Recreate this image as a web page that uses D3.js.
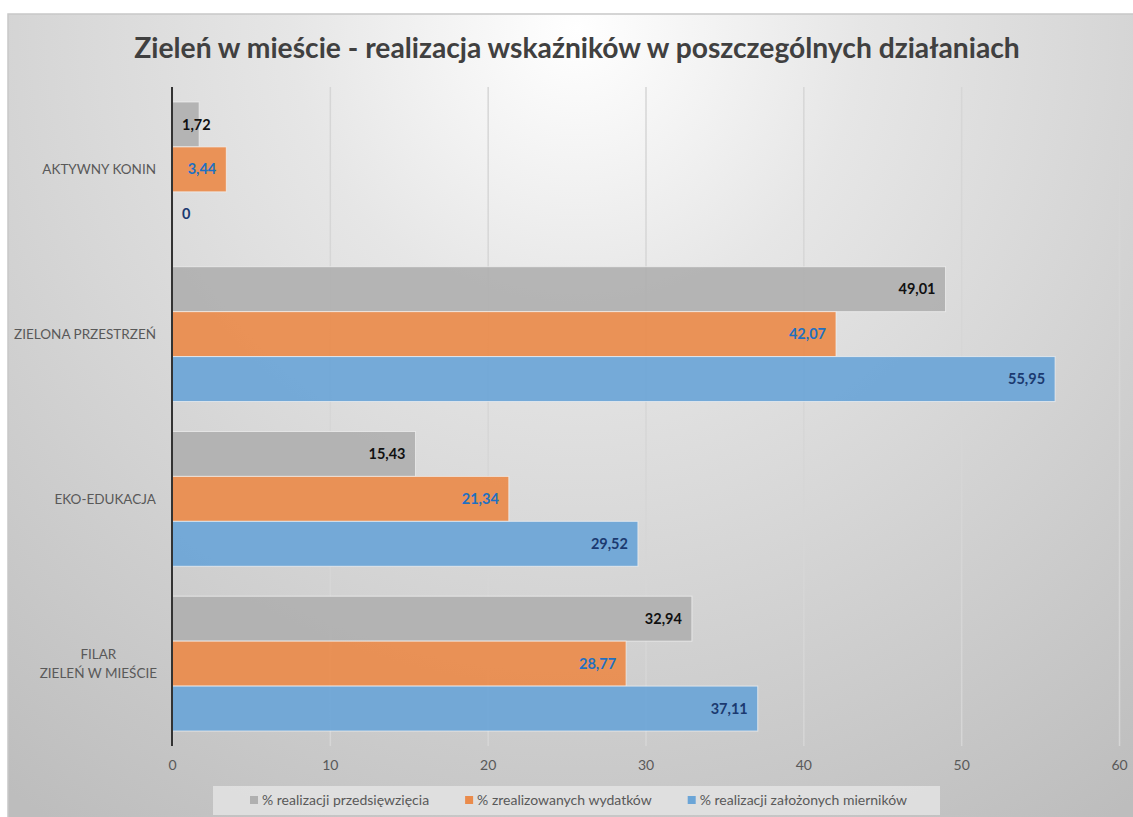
<!DOCTYPE html>
<html>
<head>
<meta charset="utf-8">
<script src="https://cdn.jsdelivr.net/npm/d3@7"></script>
<style>
  body { margin: 0; background: #fff; }
  text { font-family: Lato, "Open Sans", sans-serif; }
</style>
</head>
<body>
<div id="chart-area"></div>
<script>
// data
var categories = ["AKTYWNY KONIN", "ZIELONA PRZESTRZEŃ", "EKO-EDUKACJA", "FILAR\nZIELEŃ W MIEŚCIE"];
var seriesNames = ["% realizacji przedsięwzięcia", "% zrealizowanych wydatków", "% realizacji założonych mierników"];
var przedsiewziecia = [1.72, 49.01, 15.43, 32.94];
var wydatki = [3.44, 42.07, 21.34, 28.77];
var mierniki = [0, 55.95, 29.52, 37.11];
var xTicks = [0, 10, 20, 30, 40, 50, 60];

var seriesValues = [przedsiewziecia, wydatki, mierniki];
var barColors = ["#b0b0b0", "#ea8b4b", "#6ba5d7"];
var labelColors = ["#111111", "#1f70c1", "#1b3a70"];

var W = 1133, H = 817;
var plot = { left: 172, right: 1119, top: 87, bottom: 746 };

var svg = d3.select("#chart-area")
    .append("svg")
    .attr("width", W)
    .attr("height", H);

var defs = svg.append("defs");
var bg = defs.append("radialGradient")
    .attr("id", "bg")
    .attr("gradientUnits", "userSpaceOnUse")
    .attr("cx", 577).attr("cy", 30).attr("r", 950);
bg.append("stop").attr("offset", "0").attr("stop-color", "#ffffff");
bg.append("stop").attr("offset", "0.3").attr("stop-color", "#e6e6e6");
bg.append("stop").attr("offset", "1").attr("stop-color", "#bdbdbd");

var gridGrad = defs.append("linearGradient")
    .attr("id", "gridGrad")
    .attr("gradientUnits", "userSpaceOnUse")
    .attr("x1", 0).attr("x2", 0).attr("y1", plot.top).attr("y2", plot.bottom);
gridGrad.append("stop").attr("offset", "0").attr("stop-color", "#d6d6d6");
gridGrad.append("stop").attr("offset", "1").attr("stop-color", "#858585");

// chart area
svg.append("rect")
    .attr("x", 8).attr("y", 14)
    .attr("width", W - 8 + 2).attr("height", H - 14 + 2)
    .attr("fill", "url(#bg)")
    .attr("stroke", "#c8c8c8")
    .attr("stroke-width", 1.5);

// title
var title = svg.append("text")
    .attr("x", 577)
    .attr("y", 58)
    .attr("text-anchor", "middle")
    .attr("fill", "#404040")
    .attr("font-weight", "bold")
    .attr("font-size", 28)
    .text("Zieleń w mieście - realizacja wskaźników w poszczególnych działaniach");
var tl = title.node().getComputedTextLength();
title.attr("font-size", 28 * 886 / tl);

var x = d3.scaleLinear()
    .domain([0, 60])
    .range([plot.left, plot.right]);

var y0 = d3.scaleBand()
    .domain(categories)
    .range([plot.top, plot.bottom]);

var y1 = d3.scaleBand()
    .domain(seriesNames)
    .range([0, y0.bandwidth()])
    .paddingOuter(0.333);

// gridlines
var xAxisCall = d3.axisBottom(x)
    .tickValues(xTicks)
    .tickSize(-(plot.bottom - plot.top))
    .tickPadding(14)
    .tickFormat(d => d);
var xAxis = svg.append("g")
    .attr("class", "x axis")
    .attr("transform", "translate(0," + plot.bottom + ")")
    .call(xAxisCall);
xAxis.select(".domain").remove();
xAxis.selectAll("line")
    .attr("stroke", "url(#gridGrad)")
    .attr("stroke-width", 1.5)
    .attr("x1", 0.01);
xAxis.selectAll("text")
    .attr("fill", "#595959")
    .attr("font-size", 14)
    .attr("dy", "0.71em");

// bars
var data = [];
categories.forEach((c, i) => {
    seriesNames.forEach((s, j) => {
        data.push({ cat: c, series: s, si: j, value: seriesValues[j][i] });
    });
});

var bars = svg.append("g").selectAll("rect")
    .data(data)
    .enter()
    .append("rect")
    .attr("x", x(0))
    .attr("y", d => y0(d.cat) + y1(d.series))
    .attr("width", d => x(d.value) - x(0))
    .attr("height", y1.bandwidth())
    .attr("fill", d => barColors[d.si])
    .attr("fill-opacity", 0.92)
    .attr("stroke", "#f4f4f4")
    .attr("stroke-opacity", 0.7)
    .attr("stroke-width", 1);

// y axis line
svg.append("line")
    .attr("x1", x(0)).attr("x2", x(0))
    .attr("y1", plot.top).attr("y2", plot.bottom)
    .attr("stroke", "#333")
    .attr("stroke-width", 2);

// data labels
svg.append("g").selectAll("text")
    .data(data)
    .enter()
    .append("text")
    .attr("y", d => y0(d.cat) + y1(d.series) + y1.bandwidth() / 2)
    .attr("dy", "0.35em")
    .attr("font-size", 14.5)
    .attr("font-weight", "bold")
    .attr("fill", d => labelColors[d.si])
    .text(d => d3.format(d.value % 1 === 0 ? "d" : ".2f")(d.value).replace(".", ","))
    .each(function (d) {
        var w = this.getComputedTextLength();
        var sx = Math.max(x(d.value) - 10 - w, x(0) + 10);
        d3.select(this).attr("x", sx);
    });

// category labels
var catG = svg.append("g");
categories.forEach(c => {
    var lines = c.split("\n");
    var t = catG.append("text")
        .attr("fill", "#595959")
        .attr("font-size", 13.5);
    var cy = y0(c) + y0.bandwidth() / 2;
    var lh = 19;
    lines.forEach((l, k) => {
        t.append("tspan")
            .attr("y", cy + (k - (lines.length - 1) / 2) * lh)
            .attr("dy", "0.35em")
            .text(l);
    });
    if (lines.length === 1) {
        t.attr("text-anchor", "end").selectAll("tspan").attr("x", 156);
    } else {
        var maxW = 0;
        t.selectAll("tspan").each(function () {
            maxW = Math.max(maxW, this.getComputedTextLength());
        });
        t.attr("text-anchor", "middle").selectAll("tspan").attr("x", 157 - maxW / 2);
    }
});

// legend
var legend = svg.append("g");
legend.append("rect")
    .attr("x", 213).attr("y", 786)
    .attr("width", 727).attr("height", 29)
    .attr("fill", "#e3e3e3")
    .attr("fill-opacity", 0.85);

var lx = 250;
seriesNames.forEach((s, j) => {
    legend.append("rect")
        .attr("x", lx).attr("y", 796)
        .attr("width", 8).attr("height", 8)
        .attr("fill", barColors[j]);
    var t = legend.append("text")
        .attr("x", lx + 12)
        .attr("y", 800)
        .attr("dy", "0.35em")
        .attr("fill", "#595959")
        .attr("font-size", 14)
        .text(s);
    lx += 12 + t.node().getComputedTextLength() + 36;
});
</script>
</body>
</html>
